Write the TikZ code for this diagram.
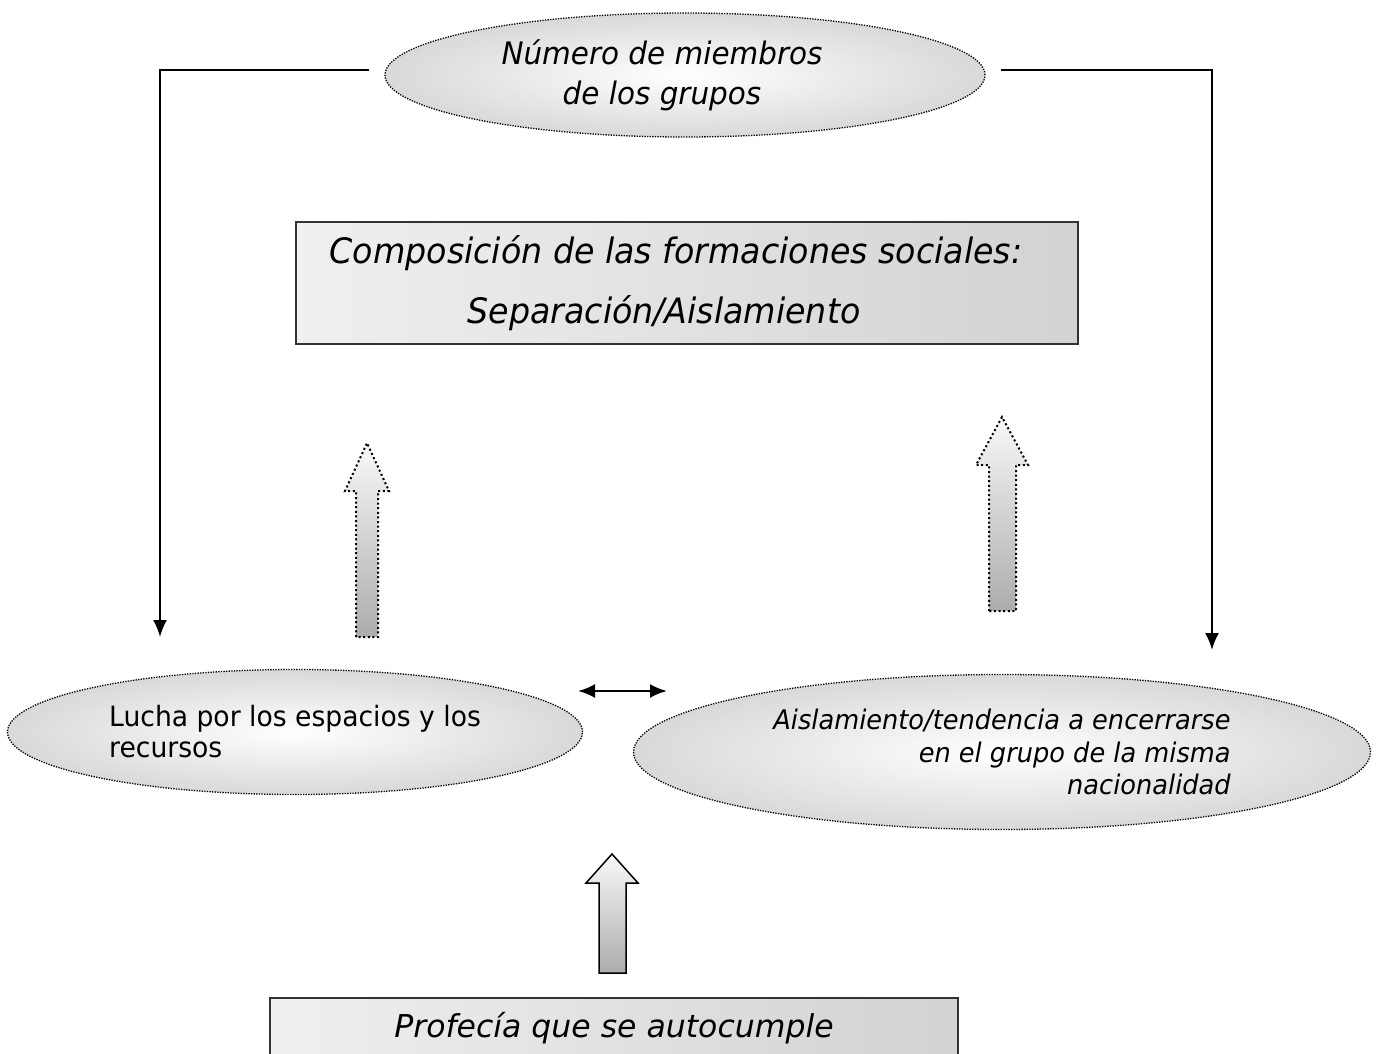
\documentclass[tikz,border=0pt]{standalone}
\usepackage{fontspec}
\setmainfont{DejaVu Sans}
\newfontfamily\narrowfont[FakeStretch=0.95]{DejaVu Sans}
\usetikzlibrary{shapes.geometric,arrows.meta}
\tikzset{
  x=1pt, y=-1pt,
  >={Latex[length=17pt,width=14pt]},
}
\tikzstyle{oval}=[ellipse,draw,line width=1.3pt,dash pattern=on 1.3pt off 1.3pt,
  inner color=white,outer color=gray!30,inner sep=2pt]
\tikzstyle{panel}=[rectangle,draw=black!80,line width=1.6pt,left color=gray!12,right color=gray!35]
\tikzstyle{link}=[line width=2pt,->]
\tikzstyle{fatarrow}=[line width=2pt,dash pattern=on 2pt off 2.6pt,top color=gray!5,bottom color=gray!65]

\begin{document}
\begin{tikzpicture}
    \useasboundingbox (0,0) rectangle (1379,1054);
    \node[oval,minimum width=600pt,minimum height=124pt,align=center,
      font=\narrowfont\itshape\fontsize{31}{40}\selectfont] (num) at (685,75)
      {Número de miembros\hspace*{46pt}\\de los grupos\hspace*{46pt}};
    \node[panel,minimum width=782pt,minimum height=122pt,align=center,
      font=\narrowfont\itshape\fontsize{35}{60}\selectfont] (comp) at (687,283)
      {Composición de las formaciones sociales:\hspace*{22pt}\\Separación/Aislamiento\hspace*{46pt}};
    \node[oval,minimum width=575pt,minimum height=125pt,align=left,
      font=\narrowfont\fontsize{28}{31}\selectfont] (lucha) at (295,732)
      {Lucha por los espacios y los\\recursos};
    \node[oval,minimum width=737pt,minimum height=155pt,align=right,
      font=\narrowfont\itshape\fontsize{27}{32.5}\selectfont] (aisl) at (1002,752)
      {Aislamiento/tendencia a encerrarse\\en el grupo de la misma\\nacionalidad};
    \node[panel,anchor=north,minimum width=688pt,minimum height=60pt,
      font=\itshape\fontsize{31.5}{38}\selectfont] (prof) at (614,997)
      {Profecía que se autocumple};
    % feedback lines
    \coordinate (luchain) at (160,637);
    \coordinate (aislin) at (1212,650);
    \draw[link] ([shift={(-15,-5)}]num.west) -| (luchain);
    \draw[link] ([shift={(15,-5)}]num.east) -| (aislin);
    \coordinate (sw1) at (578,691);
    \coordinate (sw2) at (667,691);
    \draw[link,<->,line width=2.5pt] (sw1) -- (sw2);
    % block arrows
    \draw[fatarrow] (356,637) -- (356,491) -- (345,491) -- (367,443)
      -- (389,491) -- (378,491) -- (378,637) -- cycle;
    \draw[fatarrow] (989,611) -- (989,465) -- (976,465) -- (1002,417)
      -- (1028,465) -- (1016,465) -- (1016,611) -- cycle;
    \draw[fatarrow,solid,line width=1.5pt] (599,973) -- (599,883) -- (586,883)
      -- (612,854) -- (638,883) -- (626,883) -- (626,973) -- cycle;
\end{tikzpicture}
\end{document}
